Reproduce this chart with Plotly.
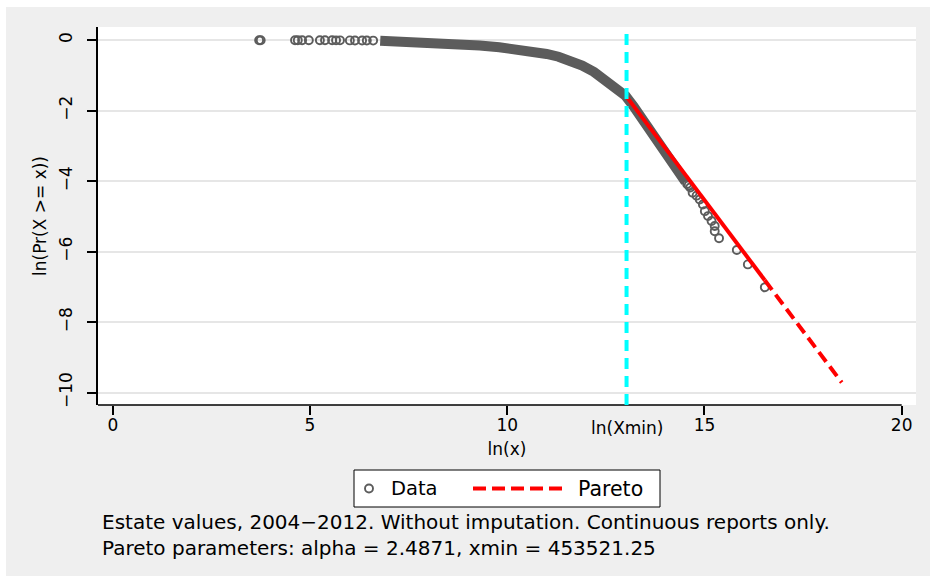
import plotly.graph_objects as go

# ---------------- data ----------------
# sparse low-x observations (hollow circles near ln Pr = 0)
low_x = [3.71, 3.75, 4.62, 4.69, 4.80, 4.97, 5.25, 5.38, 5.56, 5.66, 5.76, 6.01,
         6.14, 6.32, 6.44, 6.60]
low_y = [-0.0003, -0.0006, -0.001, -0.0013, -0.0016, -0.002, -0.0025, -0.003,
         -0.0035, -0.004, -0.0045, -0.006, -0.007, -0.009, -0.010, -0.012]
# dense body of the empirical CCDF (overlapping circles form a solid band)
band_x = [6.78, 7.3, 7.8, 8.3, 8.8, 9.3, 9.8, 10.3, 10.7, 11.0, 11.3, 11.6, 11.9,
          12.2, 12.5, 12.8, 13.0, 13.2, 13.4, 13.6, 13.8, 14.0, 14.2, 14.35,
          14.45, 14.52]
band_y = [-0.015, -0.03, -0.045, -0.075, -0.11, -0.15, -0.20, -0.26, -0.32, -0.39,
          -0.47, -0.58, -0.72, -0.90, -1.13, -1.38, -1.58, -1.87, -2.18, -2.49,
          -2.80, -3.10, -3.41, -3.65, -3.86, -4.02]
# upper tail observations
tail_x = [14.56, 14.60, 14.64, 14.70, 14.80, 14.88, 14.96, 15.01, 15.09, 15.18,
          15.26, 15.26, 15.37, 15.82, 16.10, 16.53]
tail_y = [-4.08, -4.12, -4.18, -4.33, -4.41, -4.52, -4.66, -4.85, -4.99, -5.13,
          -5.27, -5.42, -5.62, -5.95, -6.36, -7.01]
# Pareto fit (alpha = 2.4871, xmin = 453521.25)
ln_xmin = 13.0248
fit_x_in = [13.0248, 16.53]
fit_y_in = [-1.60, -6.81]
fit_x_out = [16.53, 18.48]
fit_y_out = [-6.81, -9.71]

x_ticks = [0, 5, 10, 15, 20]
y_ticks = [-10, -8, -6, -4, -2, 0]
y_ticktext = ["\u221210", "\u22128", "\u22126", "\u22124", "\u22122", "0"]

note_lines = ["Estate values, 2004\u22122012. Without imputation. Continuous reports only.",
              "Pareto parameters: alpha = 2.4871, xmin = 453521.25"]

# ---------------- layout geometry ----------------
W, H = 930, 576
L, R, T, B = 98, 14, 27, 171
PW, PH = W - L - R, H - T - B
BOT = H - B


def px(xp):
    return (xp - L) / PW


def py(yp):
    return (BOT - yp) / PH


GRAY = "#5c5c5c"
RED = "#ff0000"
FONT = "DejaVu Sans"

fig = go.Figure()
fig.add_trace(go.Scatter(x=band_x, y=band_y, mode="lines",
                         line=dict(color=GRAY, width=10), showlegend=False,
                         hoverinfo="skip"))
fig.add_trace(go.Scatter(x=low_x + tail_x, y=low_y + tail_y, mode="markers",
                         marker=dict(symbol="circle-open", size=8, color=GRAY,
                                     line=dict(width=1.9)),
                         name="Data", showlegend=False))
fig.add_trace(go.Scatter(x=fit_x_in, y=fit_y_in, mode="lines",
                         line=dict(color=RED, width=4), showlegend=False))
fig.add_trace(go.Scatter(x=fit_x_out, y=fit_y_out, mode="lines",
                         line=dict(color=RED, width=4, dash="12px,6px"),
                         name="Pareto", showlegend=False))

shapes = [
    # white border strips at top and left of the gray graph region
    dict(type="rect", xref="paper", yref="paper", x0=px(0), x1=px(W), y0=py(7), y1=py(0),
         fillcolor="white", line=dict(width=0), layer="below"),
    dict(type="rect", xref="paper", yref="paper", x0=px(0), x1=px(6), y0=py(H), y1=py(0),
         fillcolor="white", line=dict(width=0), layer="below"),
    # x axis line (ends at the last tick)
    dict(type="line", xref="x", yref="paper", x0=-0.375, x1=20, y0=0, y1=0,
         line=dict(color="black", width=1.5)),
    # ln(xmin) marker
    dict(type="line", xref="x", yref="paper", x0=ln_xmin, x1=ln_xmin, y0=0, y1=1,
         line=dict(color="#00ffff", width=4, dash="11px,7px")),
    # legend box
    dict(type="rect", xref="paper", yref="paper", x0=px(354), x1=px(660),
         y0=py(507), y1=py(470), fillcolor="white", line=dict(color="black", width=1)),
    dict(type="circle", xref="paper", yref="paper", x0=px(365), x1=px(373),
         y0=py(492.5), y1=py(484.5), line=dict(color=GRAY, width=1.9)),
    dict(type="line", xref="paper", yref="paper", x0=px(473), x1=px(563),
         y0=py(488.5), y1=py(488.5), line=dict(color=RED, width=4, dash="13px,6px")),
]

annotations = [
    dict(text="ln(Xmin)", xref="x", yref="paper", x=ln_xmin, y=py(416),
         xanchor="center", yanchor="top", showarrow=False,
         font=dict(family=FONT, size=17, color="black")),
    dict(text="Data", xref="paper", yref="paper", x=px(389), y=py(488.5),
         xanchor="left", yanchor="middle", showarrow=False,
         font=dict(family=FONT, size=19.5, color="black")),
    dict(text="Pareto", xref="paper", yref="paper", x=px(576), y=py(488.5),
         xanchor="left", yanchor="middle", showarrow=False,
         font=dict(family=FONT, size=20.5, color="black")),
    dict(text="<br>".join(note_lines), xref="paper", yref="paper", x=px(101),
         y=py(535), xanchor="left", yanchor="middle", align="left", showarrow=False,
         borderpad=0, font=dict(family=FONT, size=20, color="black")),
]

fig.update_layout(
    width=W, height=H,
    margin=dict(l=L, r=R, t=T, b=B, pad=0),
    paper_bgcolor="#efefef", plot_bgcolor="white",
    font=dict(family=FONT, color="black"),
    showlegend=False,
    shapes=shapes, annotations=annotations,
    xaxis=dict(range=[-0.375, 20.363], tickmode="array", tickvals=x_ticks,
               ticks="outside", ticklen=9, tickwidth=1.5, tickcolor="black",
               showline=False, showgrid=False, zeroline=False,
               tickfont=dict(size=17, family=FONT), ticklabelstandoff=-4,
               title=dict(text="ln(x)", font=dict(size=17, family=FONT), standoff=8)),
    yaxis=dict(range=[-10.349, 0.374], tickmode="array", tickvals=y_ticks,
               ticktext=y_ticktext, tickangle=-90,
               ticks="outside", ticklen=9, tickwidth=1.5, tickcolor="black",
               showline=True, linecolor="black", linewidth=1.5, mirror=False,
               showgrid=True, gridcolor="#e6e6e6", gridwidth=2, zeroline=False,
               tickfont=dict(size=17, family=FONT), ticklabelstandoff=8,
               title=dict(text="ln(Pr(X >= x))", font=dict(size=17, family=FONT),
                          standoff=6)),
)

fig.write_html("out.html")
